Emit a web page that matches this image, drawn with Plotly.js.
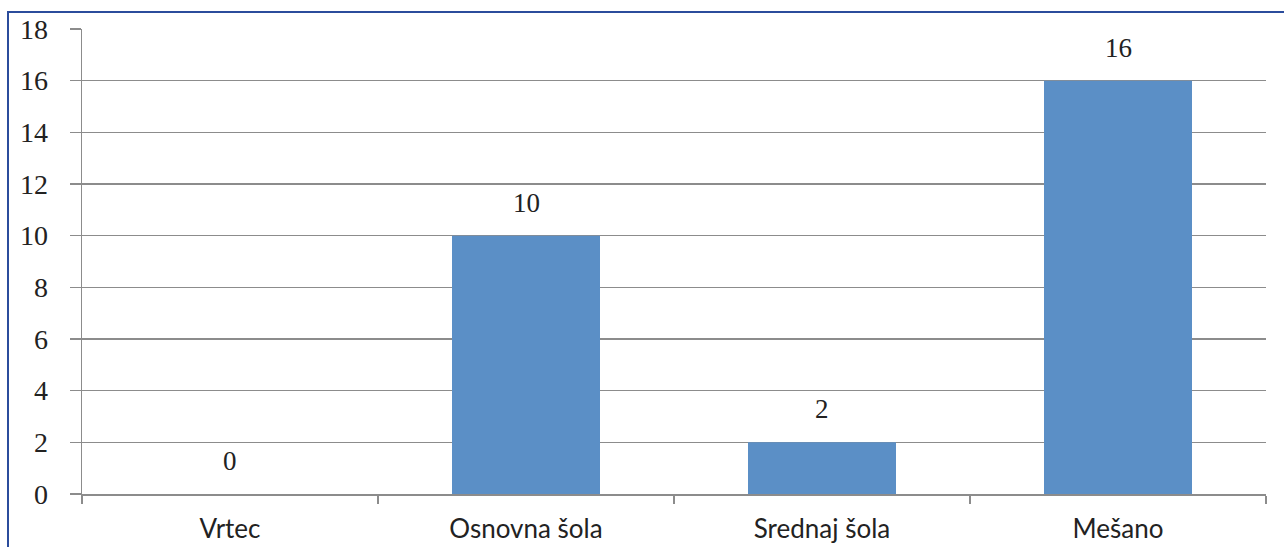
<!DOCTYPE html>
<html>
<head>
<meta charset="utf-8">
<script src="https://cdn.plot.ly/plotly-3.0.1.min.js"></script>
<style>
  html, body { margin: 0; padding: 0; background: #fff; }
  #wrap { position: relative; width: 1284px; height: 547px; overflow: hidden; }
  #chart { position: absolute; left: 0; top: 0; width: 1284px; height: 547px; }
  #frame { position: absolute; left: 7px; top: 11px; width: 1300px; height: 600px;
           border-left: 2px solid #2B4C9C; border-top: 2px solid #2B4C9C; pointer-events: none; }
</style>
</head>
<body>
<div id="wrap">
  <div id="chart"></div>
  <div id="frame"></div>
</div>
<script>
const categories = ["Vrtec", "Osnovna šola", "Srednaj šola", "Mešano"];
const values = [0, 10, 2, 16];
const yTicks = [0, 2, 4, 6, 8, 10, 12, 14, 16, 18];

const trace = {
  type: "bar",
  x: categories,
  y: values,
  marker: { color: "#5B8FC6", line: { width: 0 } },
  hoverinfo: "none"
};

const annotations = categories.map((c, i) => ({
  x: c, y: values[i], xref: "x", yref: "y",
  text: String(values[i]),
  showarrow: false, yanchor: "bottom", yshift: 16,
  font: { family: "Liberation Serif, DejaVu Serif, serif", size: 27, color: "#222" }
}));

const layout = {
  width: 1284, height: 547,
  margin: { l: 82, r: 18, t: 29, b: 53 },
  paper_bgcolor: "#fff", plot_bgcolor: "#fff",
  showlegend: false,
  bargap: 0.5,
  xaxis: {
    type: "category",
    showgrid: false,
    showline: true, linecolor: "#8C8C8C", linewidth: 1.5,
    ticks: "outside", tickson: "boundaries", ticklen: 8, tickcolor: "#8C8C8C", tickwidth: 1.5,
    ticklabelstandoff: 11,
    tickfont: { family: "Lato, Carlito, Open Sans, sans-serif", size: 26, color: "#222" },
    fixedrange: true
  },
  yaxis: {
    range: [0, 18],
    tickvals: yTicks,
    ticktext: yTicks.map(String),
    showgrid: true, gridcolor: "#8C8C8C", gridwidth: 1.5,
    zeroline: false,
    showline: true, linecolor: "#8C8C8C", linewidth: 1.5,
    ticks: "outside", ticklen: 11, tickcolor: "#8C8C8C", tickwidth: 1.5,
    ticklabelstandoff: 16,
    tickfont: { family: "Liberation Serif, DejaVu Serif, serif", size: 28, color: "#222" },
    fixedrange: true
  },
  annotations: annotations
};

Plotly.newPlot("chart", [trace], layout, { displayModeBar: false, staticPlot: true });
</script>
</body>
</html>
